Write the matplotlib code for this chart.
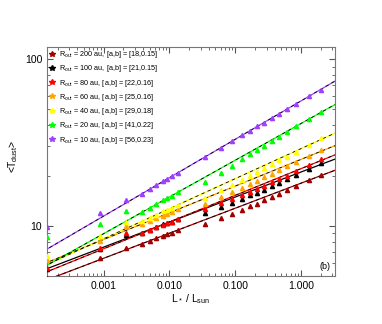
import numpy as np
import matplotlib
matplotlib.use('Agg')
import matplotlib.pyplot as plt

plt.rcParams['font.family'] = ['Liberation Sans', 'DejaVu Sans']
plt.rcParams['mathtext.fontset'] = 'custom'
plt.rcParams['mathtext.rm'] = 'Liberation Sans'
plt.rcParams['mathtext.it'] = 'Liberation Sans'

# luminosity sample (L* / Lsun)
lum = [0.00014, 0.00087, 0.0022, 0.0039, 0.0050, 0.0063, 0.0080, 0.0093, 0.0108, 0.0135,
       0.035, 0.061, 0.090, 0.128, 0.169, 0.216, 0.275, 0.36, 0.46, 0.61, 0.84, 1.32, 2.0]

# mean dust temperature per outer radius
t_10 = [9.8, 12.0, 14.3, 15.6, 16.6, 17.5, 18.5, 19.1, 19.8, 20.8,
        25.9, 29.4, 32.2, 34.9, 37.2, 39.4, 41.6, 44.3, 46.8, 50.0, 53.8, 59.7, 65.6]
t_20 = [8.6, 10.3, 12.2, 12.1, 12.8, 13.5, 14.2, 14.7, 15.1, 15.9,
        18.3, 20.7, 22.8, 25.0, 26.8, 28.4, 30.2, 32.2, 34.2, 36.6, 39.4, 43.8, 48.0]
t_40 = [6.6, 8.7, 10.6, 10.7, 11.2, 11.6, 12.2, 12.5, 12.8, 13.3,
        14.7, 16.3, 17.6, 18.8, 19.9, 21.0, 22.2, 23.4, 24.7, 26.0, 27.8, 30.5, 33.5]
t_60 = [6.2, 8.1, 10.0, 10.3, 10.7, 11.1, 11.5, 11.8, 12.1, 12.6,
        13.6, 14.9, 15.9, 16.9, 17.8, 18.6, 19.5, 20.5, 21.6, 22.7, 24.1, 26.3, 28.5]
t_80 = [5.6, 7.4, 9.0, 9.1, 9.4, 9.8, 10.1, 10.4, 10.6, 11.0,
        12.6, 13.7, 14.5, 15.3, 16.0, 16.7, 17.4, 18.3, 19.1, 20.0, 21.3, 23.2, 25.0]
t_100 = [5.5, 7.3, 8.8, 9.1, 9.5, 9.8, 10.2, 10.4, 10.6, 11.0,
         11.9, 12.9, 13.7, 14.5, 15.2, 15.8, 16.5, 17.3, 18.1, 19.0, 20.2, 22.0, 23.8]
t_200 = [4.9, 6.4, 7.4, 7.8, 8.1, 8.4, 8.7, 8.9, 9.1, 9.4,
         10.3, 11.1, 11.8, 12.5, 13.1, 13.6, 14.2, 14.9, 15.5, 16.3, 17.3, 18.8, 20.3]

radii = [200, 100, 80, 60, 40, 20, 10]
fit_a = [18, 21, 22, 25, 29, 41, 56]
fit_b = [0.15, 0.15, 0.16, 0.16, 0.18, 0.22, 0.23]
temps = [t_200, t_100, t_80, t_60, t_40, t_20, t_10]
colors = ['#a00000', 'black', '#ff0000', '#ffa500', '#ffff00', '#00ff00', '#a040ff']

fig = plt.figure(figsize=(3.82, 3.24), dpi=100)
ax = fig.add_axes([0.123, 0.148, 0.754, 0.707])

xfit = np.logspace(np.log10(1.0e-4), np.log10(5.0), 100)
for r, a, b, t, c in zip(radii, fit_a, fit_b, temps, colors):
    yfit = a * xfit ** b
    ax.plot(xfit, yfit, color=c, lw=0.9, zorder=2)
    if c != 'black':
        ax.plot(xfit, yfit, color='black', lw=0.6, ls=(0, (4, 4)), zorder=3)
    ax.plot(lum, t, ls='none', marker='^', ms=3, color=c, mec=c, zorder=4)
    ax.plot([], [], ls='none', marker='*', ms=4, color=c,
            label=r'R$_{\rm out}$ = %d au, [a,b] = [%d,%.2f]' % (r, a, b))

ax.set_xscale('log')
ax.set_yscale('log')
ax.set_xlim(1.38e-4, 3.3)
ax.set_ylim(5.0, 118)

ax.set_xticks([0.001, 0.01, 0.1, 1.0])
ax.set_xticklabels(['0.001', '0.010', '0.100', '1.000'])
ax.set_yticks([10, 100])
ax.set_yticklabels(['10', '100'])
ax.tick_params(which='both', direction='in', top=True, right=True, labelsize=7.5, color='#555555')
ax.tick_params(which='major', length=4)
ax.tick_params(which='minor', length=2)
for s in ax.spines.values():
    s.set_color('#777777')

ax.set_xlabel(r'L$_*$ / L$_{\rm sun}$', fontsize=7.5, labelpad=1)
ax.set_ylabel(r'<T$_{\rm dust}$>', fontsize=7.5)
ax.yaxis.set_label_coords(-0.092, 0.52)
ax.text(0.985, 0.02, '(b)', transform=ax.transAxes, fontsize=6.5, ha='right', va='bottom')

ax.legend(loc='upper left', frameon=False, fontsize=5.2, handlelength=0.8,
          handletextpad=0.6, labelspacing=0.45, borderaxespad=0.05, borderpad=0.25)

fig.savefig('out.png', dpi=100)
